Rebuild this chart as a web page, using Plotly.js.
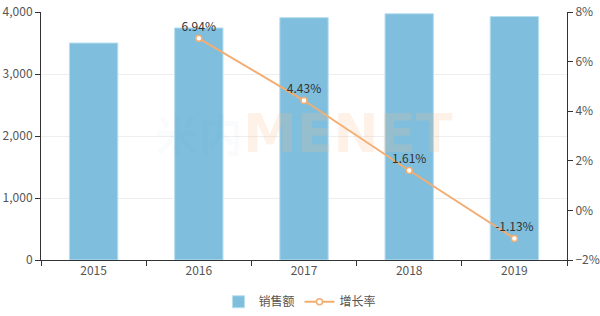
<!DOCTYPE html>
<html><head><meta charset="utf-8">
<script src="https://cdn.plot.ly/plotly-3.0.1.min.js"></script>
<style>html,body{margin:0;padding:0;background:#fff}#c{width:600px;height:316px}</style>
</head><body><div id="c"></div>
<script>
const years = ['2015','2016','2017','2018','2019'];
const sales = [3500, 3743, 3909, 3972, 3927];
const growthYears = ['2016','2017','2018','2019'];
const growth = [6.94, 4.43, 1.61, -1.13];
const growthLabels = ['6.94%','4.43%','1.61%','-1.13%'];

const font = {family: '"Noto Sans CJK SC", "Noto Sans", sans-serif', size: 12, color: '#555'};
const data = [
  {type:'bar', x: years, y: sales, name:'销售额', width:0.46,
   marker:{color:'#7fbfdd', line:{color:'#b9def0', width:1}}, hoverinfo:'none'},
  {type:'scatter', mode:'lines+markers+text', x: growthYears, y: growth, yaxis:'y2', name:'增长率',
   text: growthLabels, textposition:'top center', textfont:{color:'#333', size:12, family: font.family},
   line:{color:'#f2ad72', width:2},
   marker:{symbol:'circle', size:6, color:'#fff', line:{color:'#f2ad72', width:1.5}}, cliponaxis:false}
];
const layout = {
  width:600, height:316, margin:{l:41, r:33, t:12, b:56},
  paper_bgcolor:'#fff', plot_bgcolor:'#fff', font: font, showlegend:true,
  xaxis:{type:'category', showline:true, linecolor:'#333', linewidth:1, ticks:'outside', ticklen:5,
         tickcolor:'#333', tickson:'boundaries', showgrid:false, tickfont:{size:12, color:'#555'}},
  yaxis:{range:[0,4000], dtick:1000, tickformat:',', showline:true, linecolor:'#333', ticks:'outside',
         ticklen:5, tickcolor:'#333', gridcolor:'#eeeeee', zeroline:false, tickfont:{size:12,color:'#555'}},
  yaxis2:{overlaying:'y', side:'right', range:[-2,8], dtick:2, ticksuffix:'%', showline:true,
          linecolor:'#333', ticks:'outside', ticklen:5, tickcolor:'#333', showgrid:false, zeroline:false,
          tickfont:{size:12,color:'#555'}},
  legend:{orientation:'h', x:0.5, xanchor:'center', xref:'container', yref:'container', y:0.045, yanchor:'middle',
          font:{size:12,color:'#555'}, itemwidth:30},
  annotations:[
    {xref:'paper', yref:'paper', x:0.5, y:0.512, showarrow:false,
     text:'<b><span style="color:rgba(90,150,190,0.2);font-size:44px">米内</span>MENET</b>',
     font:{size:54, color:'rgba(248,190,140,0.2)', family:'"DejaVu Sans", "Noto Sans CJK SC", sans-serif'}}
  ]
};
Plotly.newPlot('c', data, layout, {displayModeBar:false, staticPlot:true});
</script></body></html>
